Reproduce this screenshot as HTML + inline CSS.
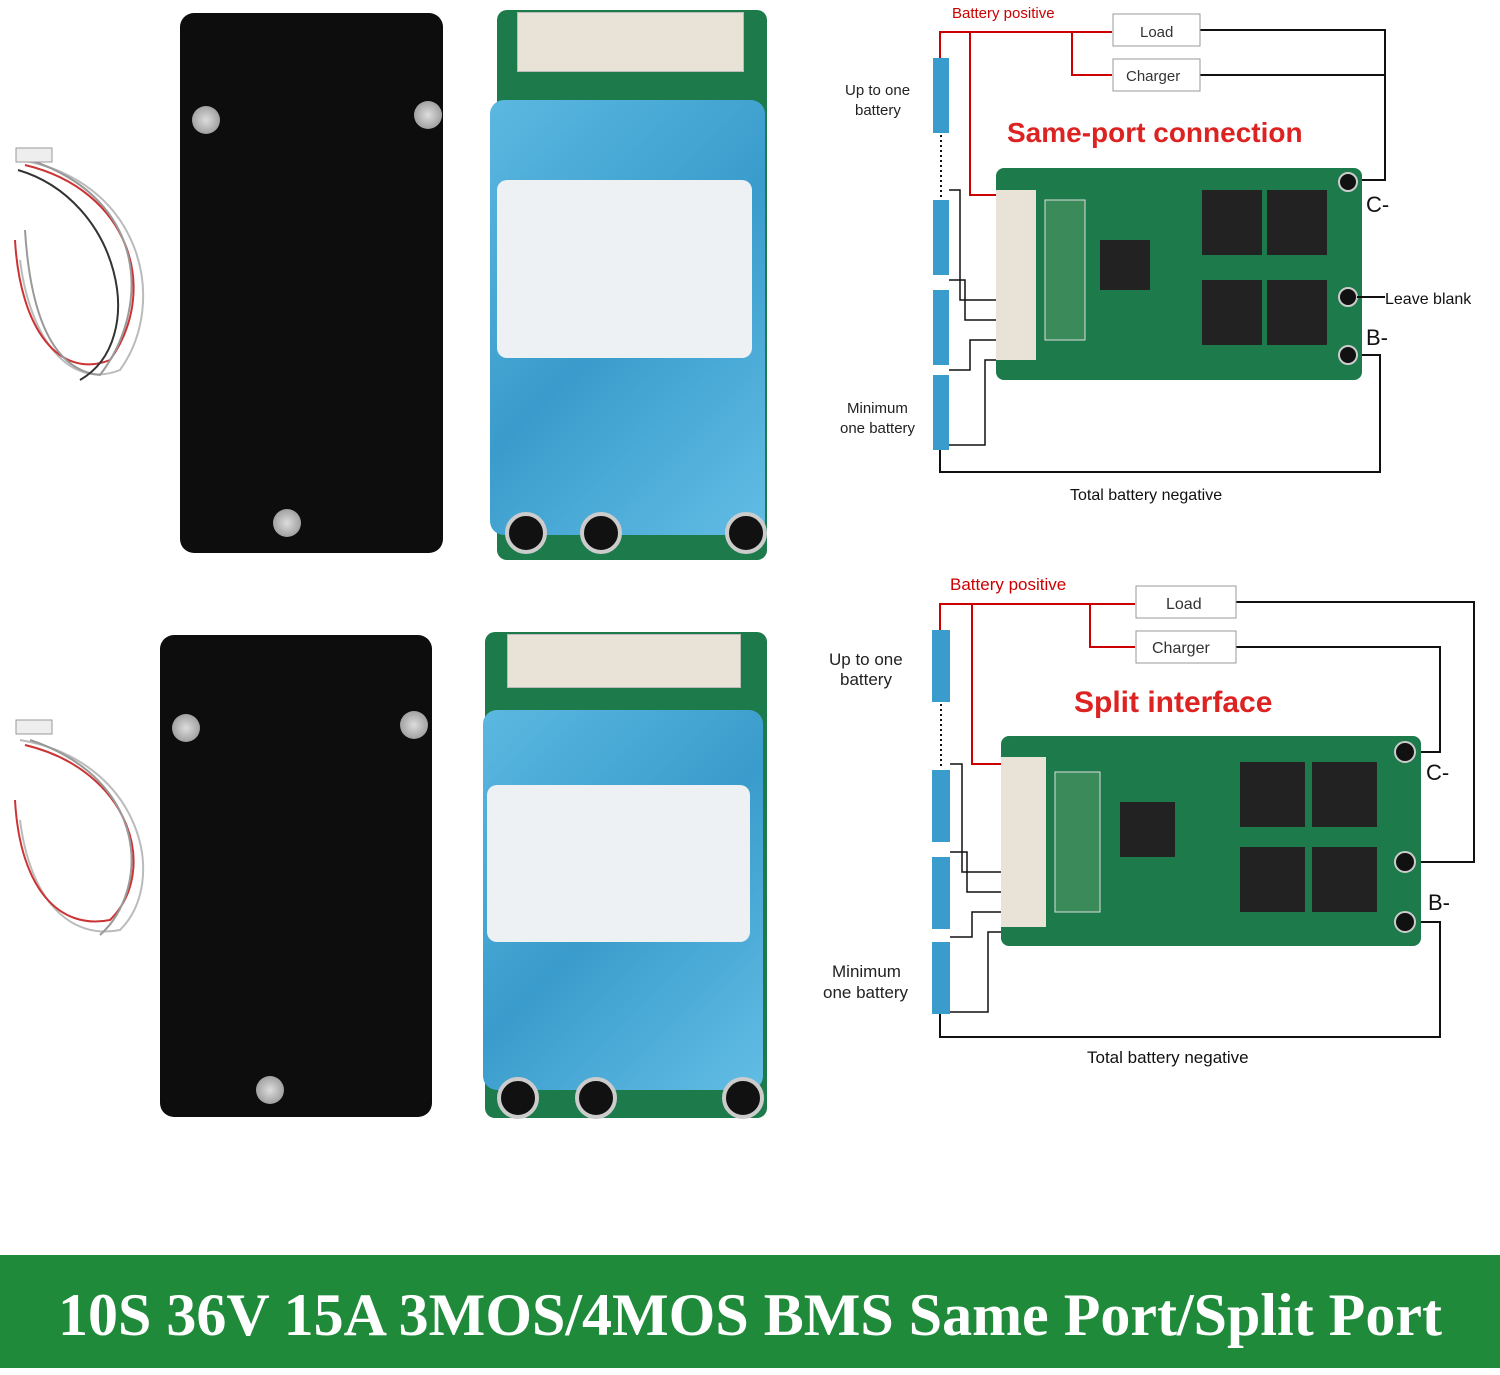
<!DOCTYPE html>
<html><head><meta charset="utf-8"><style>
body{margin:0;width:1500px;height:1368px;background:#fff;position:relative;overflow:hidden;font-family:"Liberation Sans",sans-serif}
.abs{position:absolute}
.plate{background:#0d0d0d;border-radius:14px}
.screw{position:absolute;width:28px;height:28px;border-radius:50%;background:radial-gradient(#ddd,#888);}
.pcb{background:#1d7a4a;border-radius:10px}
.conn{background:#e9e2d6;border:1px solid #bbb}
.blue{background:linear-gradient(135deg,#5bb8e0,#3a9ccc 50%,#62bde4);border-radius:14px}
.label{background:#eef1f3;border-radius:10px}
.term{position:absolute;width:34px;height:34px;border-radius:50%;background:#111;border:4px solid #ccc}
.banner{left:0;top:1255px;width:1500px;height:113px;background:#1f8a3a;color:#fff;font:bold 60px "Liberation Serif",serif;text-align:center;line-height:120px;white-space:nowrap}
</style></head><body>

<svg class="abs" style="left:0;top:140px" width="180" height="800">
<g fill="none" stroke-width="2">
<path d="M20 20 C140 40 170 160 120 230 C70 250 30 200 20 120" stroke="#bbb"/>
<path d="M25 25 C130 50 160 150 110 220 C60 240 20 190 15 100" stroke="#c33"/>
<path d="M30 20 C150 60 150 170 100 235 C50 230 30 170 25 90" stroke="#999"/>
<path d="M18 30 C120 60 150 200 80 240" stroke="#333"/>
<path d="M20 600 C140 620 170 740 120 790 C70 800 30 760 20 680" stroke="#bbb"/>
<path d="M25 605 C130 630 160 730 110 780 C60 790 20 750 15 660" stroke="#c33"/>
<path d="M30 600 C150 640 150 750 100 795" stroke="#999"/>
</g>
<rect x="16" y="8" width="36" height="14" fill="#eee" stroke="#999"/>
<rect x="16" y="580" width="36" height="14" fill="#eee" stroke="#999"/>
</svg>

<div class="abs plate" style="left:180px;top:13px;width:263px;height:540px"></div>
<div class="screw" style="left:192px;top:106px"></div>
<div class="screw" style="left:414px;top:101px"></div>
<div class="screw" style="left:273px;top:509px"></div>
<div class="abs pcb" style="left:497px;top:10px;width:270px;height:550px"></div>
<div class="abs conn" style="left:517px;top:12px;width:225px;height:58px"></div>
<div class="abs blue" style="left:490px;top:100px;width:275px;height:435px"></div>
<div class="abs label" style="left:497px;top:180px;width:255px;height:178px"></div>
<div class="term" style="left:505px;top:512px"></div>
<div class="term" style="left:580px;top:512px"></div>
<div class="term" style="left:725px;top:512px"></div>

<div class="abs plate" style="left:160px;top:635px;width:272px;height:482px"></div>
<div class="screw" style="left:172px;top:714px"></div>
<div class="screw" style="left:400px;top:711px"></div>
<div class="screw" style="left:256px;top:1076px"></div>
<div class="abs pcb" style="left:485px;top:632px;width:282px;height:486px"></div>
<div class="abs conn" style="left:507px;top:634px;width:232px;height:52px"></div>
<div class="abs blue" style="left:483px;top:710px;width:280px;height:380px"></div>
<div class="abs label" style="left:487px;top:785px;width:263px;height:157px"></div>
<div class="term" style="left:497px;top:1077px"></div>
<div class="term" style="left:575px;top:1077px"></div>
<div class="term" style="left:722px;top:1077px"></div>

<svg class="abs" style="left:800px;top:0" width="700" height="1100" font-family="Liberation Sans, sans-serif">
<g>
<text x="152" y="18" font-size="15" fill="#c00">Battery positive</text>
<path d="M140 60 V32 H312 M272 32 V75 H312 M140 32 H170 V195 H196" stroke="#c00" stroke-width="2" fill="none"/>
<path d="M400 30 H585 V180 H560 M400 75 H585" stroke="#111" stroke-width="2" fill="none"/>
<path d="M560 355 H580 V472 H140 V440" stroke="#111" stroke-width="2" fill="none"/>
<path d="M141 135 V198" stroke="#111" stroke-width="2" stroke-dasharray="2 3"/>
<path d="M149 190 H160 V300 H196 M149 280 H165 V320 H196 M149 370 H170 V340 H196 M149 445 H185 V360 H196" stroke="#111" stroke-width="1.5" fill="none"/>
<rect x="313" y="14" width="87" height="32" fill="#fff" stroke="#999"/>
<text x="340" y="37" font-size="15" fill="#333">Load</text>
<rect x="313" y="59" width="87" height="32" fill="#fff" stroke="#999"/>
<text x="326" y="81" font-size="15" fill="#333">Charger</text>
<text x="207" y="142" font-size="28" font-weight="bold" fill="#d22">Same-port connection</text>
<rect x="196" y="168" width="366" height="212" rx="8" fill="#1d7a4a"/>
<rect x="196" y="190" width="40" height="170" fill="#e9e2d6"/>
<rect x="245" y="200" width="40" height="140" fill="#3a8a5a" stroke="#ddd"/>
<rect x="300" y="240" width="50" height="50" fill="#222"/>
<rect x="402" y="190" width="60" height="65" fill="#222"/><rect x="467" y="190" width="60" height="65" fill="#222"/>
<rect x="402" y="280" width="60" height="65" fill="#222"/><rect x="467" y="280" width="60" height="65" fill="#222"/>
<circle cx="548" cy="182" r="9" fill="#111" stroke="#ccc" stroke-width="2"/>
<circle cx="548" cy="297" r="9" fill="#111" stroke="#ccc" stroke-width="2"/>
<circle cx="548" cy="355" r="9" fill="#111" stroke="#ccc" stroke-width="2"/>
<path d="M557 297 H585" stroke="#111" stroke-width="2"/>
<rect x="133" y="58" width="16" height="75" fill="#3a9ccc"/>
<rect x="133" y="200" width="16" height="75" fill="#3a9ccc"/>
<rect x="133" y="290" width="16" height="75" fill="#3a9ccc"/>
<rect x="133" y="375" width="16" height="75" fill="#3a9ccc"/>
<text x="45" y="95" font-size="15" fill="#222">Up to one</text><text x="55" y="115" font-size="15" fill="#222">battery</text>
<text x="47" y="413" font-size="15" fill="#222">Minimum</text><text x="40" y="433" font-size="15" fill="#222">one battery</text>
<text x="270" y="500" font-size="16" fill="#111">Total battery negative</text>
<text x="566" y="212" font-size="22" fill="#111">C-</text>
<text x="566" y="345" font-size="22" fill="#111">B-</text>
<text x="585" y="304" font-size="16" fill="#111">Leave blank</text>
</g>
<g transform="translate(0 572)">
<text x="150" y="18" font-size="17" fill="#c00">Battery positive</text>
<path d="M140 60 V32 H335 M290 32 V75 H335 M140 32 H172 V192 H201" stroke="#c00" stroke-width="2" fill="none"/>
<path d="M436 30 H674 V290 H610 M436 75 H640 V180 H610" stroke="#111" stroke-width="2" fill="none"/>
<path d="M610 350 H640 V465 H140 V430" stroke="#111" stroke-width="2" fill="none"/>
<path d="M141 132 V196" stroke="#111" stroke-width="2" stroke-dasharray="2 3"/>
<path d="M150 192 H162 V300 H201 M150 280 H167 V320 H201 M150 365 H172 V340 H201 M150 440 H188 V360 H201" stroke="#111" stroke-width="1.5" fill="none"/>
<rect x="336" y="14" width="100" height="32" fill="#fff" stroke="#999"/>
<text x="366" y="37" font-size="16" fill="#333">Load</text>
<rect x="336" y="59" width="100" height="32" fill="#fff" stroke="#999"/>
<text x="352" y="81" font-size="16" fill="#333">Charger</text>
<text x="274" y="140" font-size="30" font-weight="bold" fill="#d22">Split interface</text>
<rect x="201" y="164" width="420" height="210" rx="8" fill="#1d7a4a"/>
<rect x="201" y="185" width="45" height="170" fill="#e9e2d6"/>
<rect x="255" y="200" width="45" height="140" fill="#3a8a5a" stroke="#ddd"/>
<rect x="320" y="230" width="55" height="55" fill="#222"/>
<rect x="440" y="190" width="65" height="65" fill="#222"/><rect x="512" y="190" width="65" height="65" fill="#222"/>
<rect x="440" y="275" width="65" height="65" fill="#222"/><rect x="512" y="275" width="65" height="65" fill="#222"/>
<circle cx="605" cy="180" r="10" fill="#111" stroke="#ccc" stroke-width="2"/>
<circle cx="605" cy="290" r="10" fill="#111" stroke="#ccc" stroke-width="2"/>
<circle cx="605" cy="350" r="10" fill="#111" stroke="#ccc" stroke-width="2"/>
<rect x="132" y="58" width="18" height="72" fill="#3a9ccc"/>
<rect x="132" y="198" width="18" height="72" fill="#3a9ccc"/>
<rect x="132" y="285" width="18" height="72" fill="#3a9ccc"/>
<rect x="132" y="370" width="18" height="72" fill="#3a9ccc"/>
<text x="29" y="93" font-size="17" fill="#222">Up to one</text><text x="40" y="113" font-size="17" fill="#222">battery</text>
<text x="32" y="405" font-size="17" fill="#222">Minimum</text><text x="23" y="426" font-size="17" fill="#222">one battery</text>
<text x="287" y="491" font-size="17" fill="#111">Total battery negative</text>
<text x="626" y="208" font-size="22" fill="#111">C-</text>
<text x="628" y="338" font-size="22" fill="#111">B-</text>
</g>
</svg>

<div class="abs banner">10S 36V 15A 3MOS/4MOS BMS Same Port/Split Port</div>
</body></html>
